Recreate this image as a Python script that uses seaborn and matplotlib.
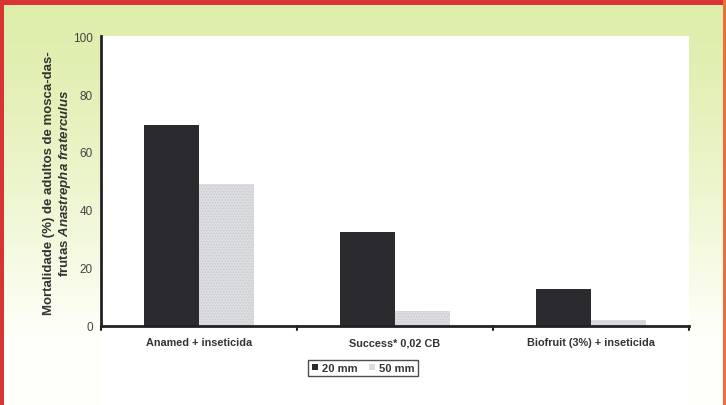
import numpy as np
import pandas as pd
import matplotlib
matplotlib.use("Agg")
import matplotlib.pyplot as plt
from matplotlib.patches import Rectangle
import seaborn as sns

# ---- data ----
categories = ["Anamed + inseticida", "Success* 0,02 CB", "Biofruit (3%) + inseticida"]
series_names = ["20 mm", "50 mm"]
mort_20mm = [69.3, 32.4, 12.7]
mort_50mm = [48.9, 5.2, 2.1]
yticks = [0, 20, 40, 60, 80, 100]

df = pd.DataFrame({
    "cat": categories * 2,
    "val": mort_20mm + mort_50mm,
    "series": [series_names[0]] * 3 + [series_names[1]] * 3,
})

sns.set_theme(style="white")
plt.rcParams["font.family"] = ["Liberation Sans", "DejaVu Sans"]
plt.rcParams["mathtext.fontset"] = "custom"
plt.rcParams["mathtext.rm"] = "Liberation Sans:bold"
plt.rcParams["mathtext.it"] = "Liberation Sans:italic:bold"
plt.rcParams["mathtext.bf"] = "Liberation Sans:bold"
plt.rcParams["hatch.linewidth"] = 0.6

W, H = 726, 406
fig = plt.figure(figsize=(W / 100, H / 100), dpi=100)

def fx(px):
    return px / W

def fy(py):
    return 1 - py / H

# background gradient
bg = fig.add_axes([0, 0, 1, 1], zorder=-10)
bg.set_axis_off()
n = H
grad = np.ones((n, 1, 3))
top = np.array([222, 237, 170]) / 255
bot = np.array([255, 255, 250]) / 255
for i in range(n):
    t = min(max((i - 6) / 330.0, 0), 1) ** 1.3
    grad[i, 0, :] = top * (1 - t) + bot * t
bg.imshow(grad, aspect="auto", extent=[0, 1, 0, 1], origin="upper")
bg.set_xlim(0, 1)
bg.set_ylim(0, 1)

# white panel behind plot
fig.patches.append(Rectangle((fx(100), 0), fx(689) - fx(100), fy(37), transform=fig.transFigure,
                             facecolor="white", edgecolor="none", zorder=-5))
# red frame
red = "#d93434"
fig.patches.append(Rectangle((0, fy(6)), 1, 6 / H, transform=fig.transFigure,
                             facecolor=red, edgecolor="none", zorder=-4))
fig.patches.append(Rectangle((0, 0), 4 / W, 1, transform=fig.transFigure,
                             facecolor=red, edgecolor="none", zorder=-4))
fig.patches.append(Rectangle((fx(723), 0), 3 / W, 1, transform=fig.transFigure,
                             facecolor="#e8703a", edgecolor="none", zorder=-4))

ax = fig.add_axes([fx(101), fy(327), fx(689) - fx(101), (327 - 37) / H])
ax.set_facecolor("none")

dark = "#2a2a2f"
light = "#dcdde0"
sns.barplot(data=df, x="cat", y="val", hue="series", palette=[dark, light],
            width=0.56, gap=0, saturation=1, ax=ax, legend=True, linewidth=0)

# subtle dotted texture on the light bars
for cont in ax.containers[1:]:
    for p in cont:
        p.set_hatch("......")
        p.set_edgecolor("#c6c8cc")
        p.set_linewidth(0)

ax.set_xlim(-0.5, 2.5)
ax.set_ylim(0, 100)
ax.set_yticks(yticks)
ax.set_yticklabels([str(v) for v in yticks], fontsize=8.5, color="#444444")
ax.set_xticks([0, 1, 2])
ax.set_xticklabels(categories, fontsize=7.8, fontweight="bold", color="#333333")
ax.tick_params(axis="x", length=0, pad=8)
ax.tick_params(axis="y", length=4, width=1.5, direction="out", color="#222222", pad=2)
# boundary ticks
for xb in [-0.5, 0.5, 1.5, 2.5]:
    ax.plot([xb, xb], [0, -1.3], color="#222222", lw=1.5, clip_on=False,
            transform=ax.transData)
for s in ["top", "right"]:
    ax.spines[s].set_visible(False)
for s in ["left", "bottom"]:
    ax.spines[s].set_linewidth(2)
    ax.spines[s].set_color("#222222")
ax.set_xlabel("")
ax.set_ylabel("")

fig.text(fx(58), fy(183),
         "Mortalidade (%) de adultos de mosca-das-\nfrutas $\\mathit{Anastrepha\\ fraterculus}$",
         rotation=90, ha="center", va="center", multialignment="center",
         fontsize=9.5, fontweight="bold", color="#333333", linespacing=1.25)

handles, labels = ax.get_legend_handles_labels()
leg = ax.legend(handles, labels, loc="center", bbox_to_anchor=(fx(363), fy(369)),
                bbox_transform=fig.transFigure, ncol=2, frameon=True, fancybox=False,
                handlelength=0.55, handleheight=0.55, handletextpad=0.35,
                columnspacing=1.0, borderpad=0.3,
                prop={"size": 8, "weight": "bold"})
leg.get_frame().set_edgecolor("#222222")
leg.get_frame().set_linewidth(1.0)
for t in leg.get_texts():
    t.set_color("#333333")

fig.savefig("out.png", dpi=100)
